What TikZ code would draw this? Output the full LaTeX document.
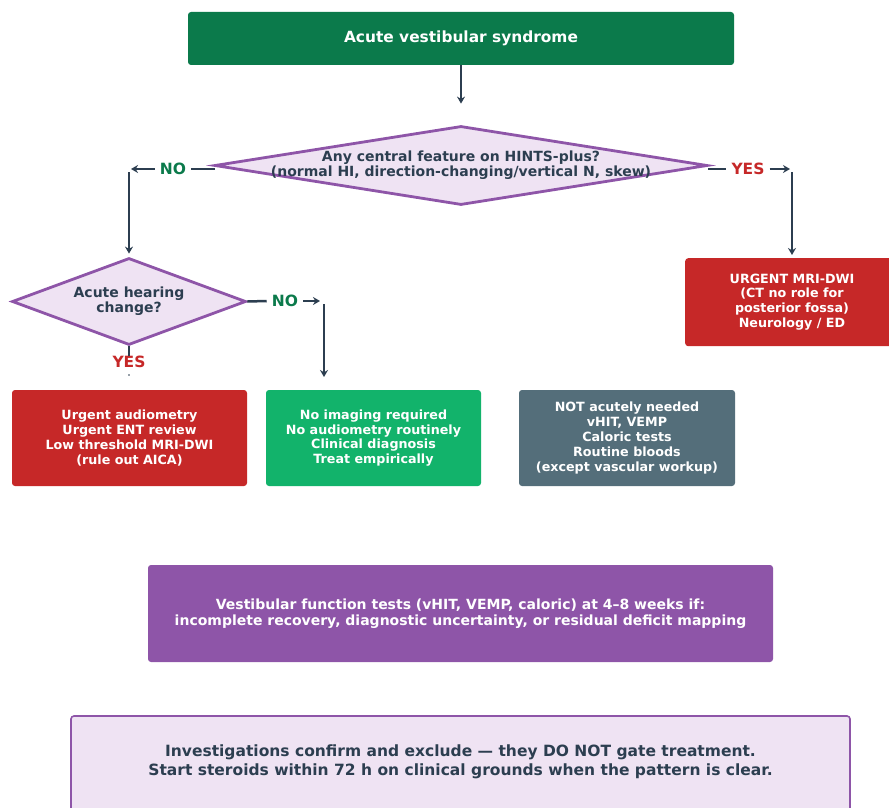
\documentclass[tikz,border=0pt]{standalone}
\usepackage{fontspec}
\setmainfont{DejaVu Sans}
\usetikzlibrary{shapes.geometric,arrows.meta}
\definecolor{dgreen}{HTML}{0B7A4B}
\definecolor{cred}{HTML}{C62828}
\definecolor{bgreen}{HTML}{12B36B}
\definecolor{cgray}{HTML}{546E7A}
\definecolor{cpurple}{HTML}{8E55A8}
\definecolor{lav}{HTML}{EFE3F3}
\definecolor{ink}{HTML}{2C3E50}
\tikzset{
  box/.style={rectangle, rounded corners=3pt, inner sep=0pt, align=center, text=white, font=\fontsize{12.7}{14.8}\selectfont\bfseries},
  dia/.style={diamond, draw=cpurple, line width=2.8pt, fill=lav, inner sep=0pt},
  diatxt/.style={align=center, text=ink, inner sep=0pt},
  ln/.style={draw=ink, line width=2.5pt},
  arr/.style={ln, -{Stealth[length=7pt,width=8pt]}},
  lab/.style={inner xsep=5pt, inner ysep=0pt, font=\fontsize{15.5}{16}\selectfont\bfseries},
}
\begin{document}
\begin{tikzpicture}[x=1pt,y=-1pt]
\useasboundingbox (0,0) rectangle (889,808);
% title
\node[box, fill=dgreen, minimum width=546, minimum height=53, font=\fontsize{15.4}{18}\selectfont\bfseries] (title) at (461,38.5) {Acute vestibular syndrome};
% diamond 1
\node[dia, minimum width=493, minimum height=79] (d1) at (461,165.5) {};
\node[diatxt, font=\fontsize{14}{15}\selectfont\bfseries] (d1t) at (461,165.5) {Any central feature on HINTS-plus?\\(normal HI, direction-changing/vertical N, skew)};
\draw[arr, shorten >=21pt] (title.south) -- (d1.north);
% NO left
\node[lab, text=dgreen] (no1) at (173,169) {NO};
\coordinate (d1l) at (215,169);
\coordinate (nol) at (131,169);
\draw[ln] (d1l) -- (no1.east);
\draw[arr] (no1.west) -- (nol);
% YES right
\node[lab, text=cred] (yes1) at (748,169) {YES};
\coordinate (d1r) at (708,169);
\coordinate (yesr) at (790,169);
\draw[ln] (d1r) -- (yes1.west);
\draw[arr] (yes1.east) -- (yesr);
% diamond 2
\node[dia, minimum width=234, minimum height=87] (d2) at (129,301.5) {};
\node[diatxt, font=\fontsize{14}{15}\selectfont\bfseries] (d2t) at (129,301.5) {Acute hearing\\change?};
\coordinate (v1) at (129,172);
\draw[arr, shorten >=3pt] (v1) -- (d2.north);
% urgent MRI
\node[box, fill=cred, minimum width=214, minimum height=88, anchor=north west] (urg) at (685,258) {};
\node[box, text=white] (urgt) at (792,302) {URGENT MRI-DWI\\(CT no role for\\posterior fossa)\\Neurology / ED};
\coordinate (v2) at (792,172);
\draw[arr] (v2) -- (792,255);
% NO from d2
\node[lab, text=dgreen] (no2) at (285,301) {NO};
\coordinate (no2r) at (320,301);
\coordinate (v3a) at (324,304);
\coordinate (v3b) at (324,377);
\draw[ln] (d2.east) -- (no2.west);
\draw[arr] (no2.east) -- (no2r);
\draw[arr] (v3a) -- (v3b);
% YES from d2
\node[lab, text=cred] (yes2) at (129,362) {YES};
\draw[ln] (d2.south) -- (yes2.north);
\coordinate (dotc) at (129,375);
\fill[ink] (dotc) circle (0.9pt);
% bottom row boxes
\node[box, fill=cred, minimum width=235, minimum height=96] (b1) at (129.5,438) {Urgent audiometry\\Urgent ENT review\\Low threshold MRI-DWI\\(rule out AICA)};
\node[box, fill=bgreen, minimum width=215, minimum height=96] (b2) at (373.5,438) {No imaging required\\No audiometry routinely\\Clinical diagnosis\\Treat empirically};
\node[box, fill=cgray, minimum width=216, minimum height=96] (b3) at (627,438) {NOT acutely needed\\vHIT, VEMP\\Caloric tests\\Routine bloods\\(except vascular workup)};
% purple box
\node[box, fill=cpurple, minimum width=625, minimum height=97, font=\fontsize{14}{15.5}\selectfont\bfseries] (vf) at (460.5,613.5) {Vestibular function tests (vHIT, VEMP, caloric) at 4--8 weeks if:\\incomplete recovery, diagnostic uncertainty, or residual deficit mapping};
% bottom note
\draw[cpurple, line width=1.6pt, fill=lav, rounded corners=3pt] (71,716) rectangle (850,830);
\node[diatxt, font=\fontsize{15.5}{18.5}\selectfont\bfseries] (note) at (460.5,762) {Investigations confirm and exclude — they DO NOT gate treatment.\\Start steroids within 72 h on clinical grounds when the pattern is clear.};
\end{tikzpicture}
\end{document}
